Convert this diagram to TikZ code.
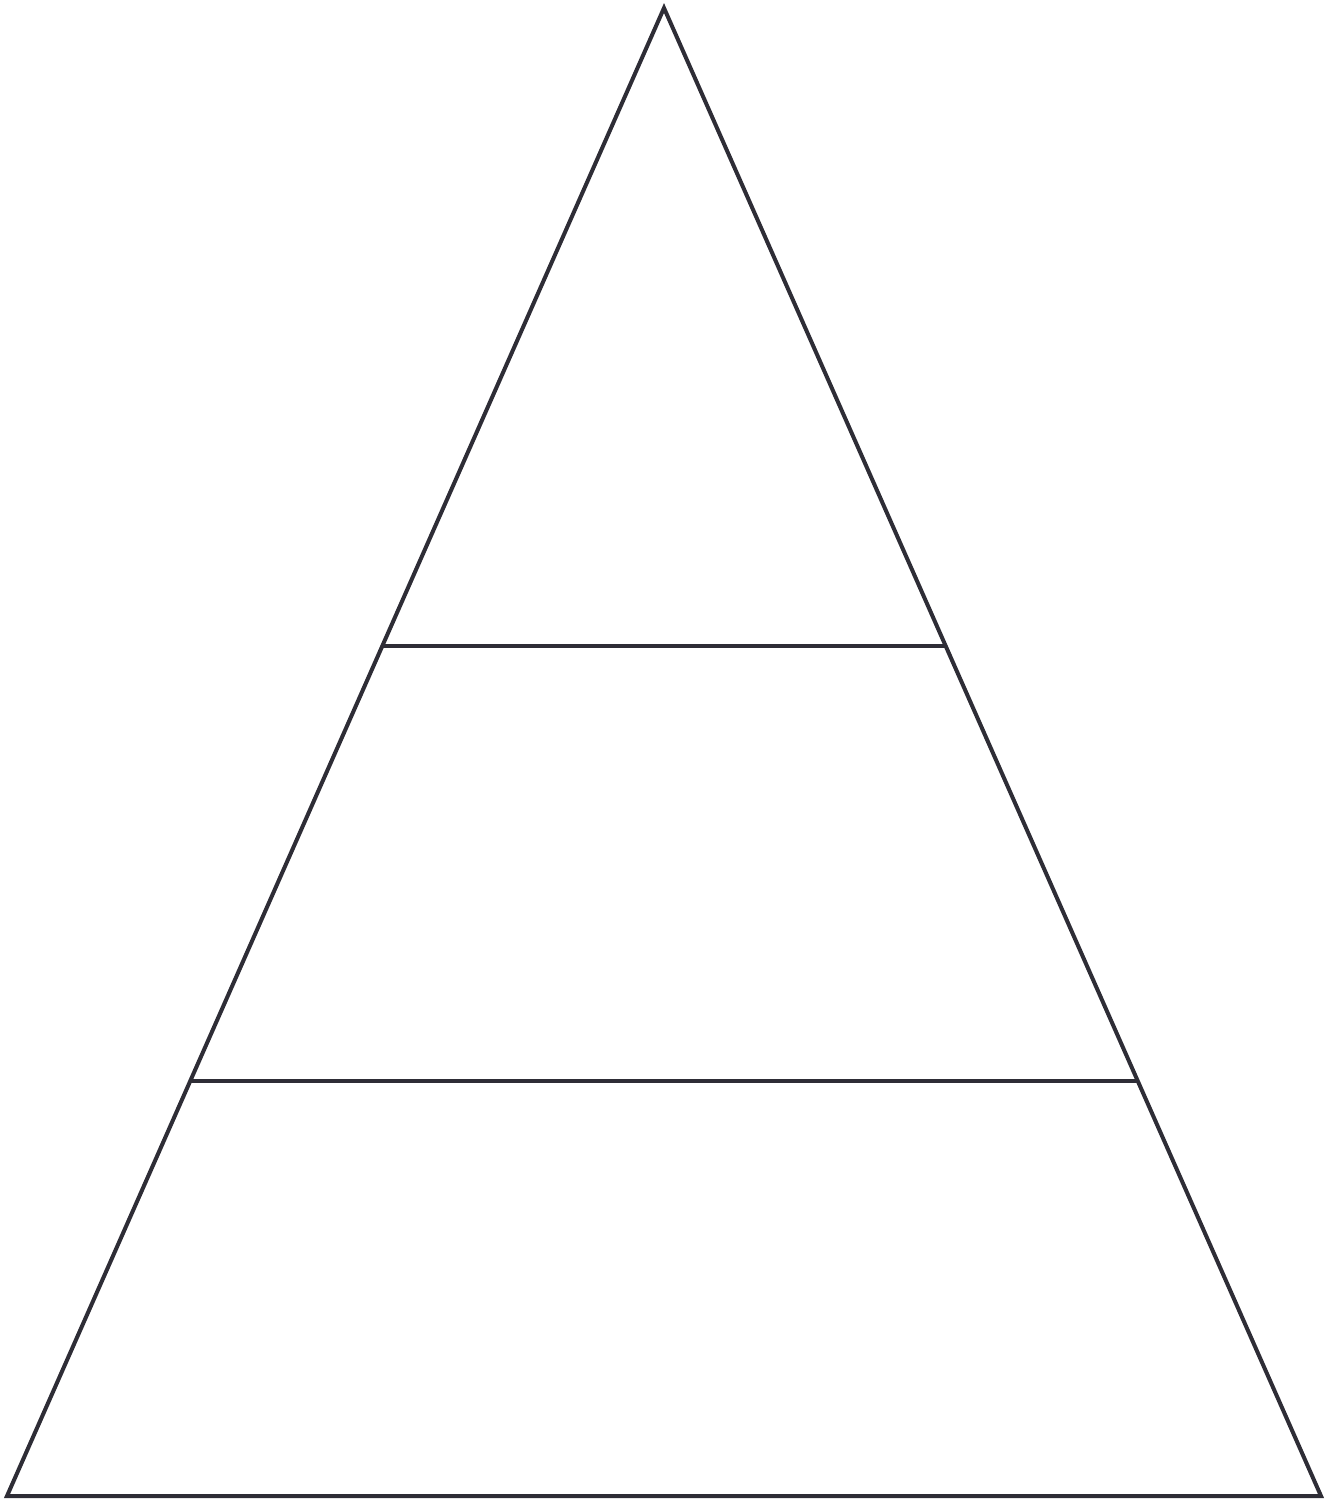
\documentclass[tikz,border=0pt]{standalone}
\usetikzlibrary{calc}
\definecolor{ink}{HTML}{2E2D36}
\begin{document}
\begin{tikzpicture}[x=1pt,y=-1pt,
  edge/.style={draw=ink,line width=4pt,line join=miter}]
\useasboundingbox (0,0) rectangle (1329,1500);
\coordinate (A) at (664,8);
\coordinate (L) at (7,1496);
\coordinate (R) at (1321,1496);
\draw[edge] (A) -- (L) -- (R) -- cycle;
\coordinate (L1) at ($(A)!{(646-8)/1488}!(L)$);
\coordinate (R1) at ($(A)!{(646-8)/1488}!(R)$);
\coordinate (L2) at ($(A)!{(1081-8)/1488}!(L)$);
\coordinate (R2) at ($(A)!{(1081-8)/1488}!(R)$);
\draw[edge] (L1) -- (R1);
\draw[edge] (L2) -- (R2);
\end{tikzpicture}
\end{document}
